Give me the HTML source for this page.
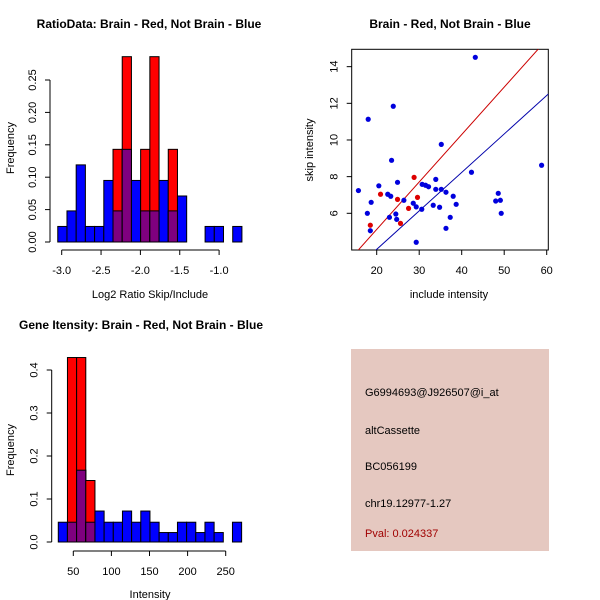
<!DOCTYPE html>
<html><head><meta charset="utf-8"><style>
html,body{margin:0;padding:0;background:#fff;}
svg{display:block;font-family:"Liberation Sans",sans-serif;}
</style></head><body>
<svg id="c" width="600" height="600" viewBox="0 0 600 600">
<rect x="0" y="0" width="600" height="600" fill="#fff"/>
</svg>
<script>
// ---- data: ratio histogram ----
const ratioStart = -3.05;
const ratioWidth = 0.117;
const ratioBlue = [0.024,0.048,0.119,0.024,0.024,0.095,0.048,0.143,0.095,0.048,0.048,0.095,0.048,0.071,0,0,0.024,0.024,0,0.024];
const ratioRed  = [0,0,0,0,0,0,0.143,0.286,0,0.143,0.286,0,0.143,0,0,0,0,0,0,0];
const ratioXTicks = [-3.0,-2.5,-2.0,-1.5,-1.0];
const ratioXTickLabels = ["-3.0","-2.5","-2.0","-1.5","-1.0"];
const ratioYTicks = [0,0.05,0.10,0.15,0.20,0.25];
const ratioYTickLabels = ["0.00","0.05","0.10","0.15","0.20","0.25"];
// ---- data: intensity histogram ----
const intStart = 30.3;
const intWidth = 12.03;
const intBlue = [0.046,0.046,0.167,0.046,0.072,0.046,0.046,0.072,0.046,0.072,0.046,0.022,0.022,0.046,0.046,0.022,0.046,0.022,0,0.046];
const intRed  = [0,0.429,0.429,0.143,0,0,0,0,0,0,0,0,0,0,0,0,0,0,0,0];
const intXTicks = [50,100,150,200,250];
const intXTickLabels = ["50","100","150","200","250"];
const intYTicks = [0,0.1,0.2,0.3,0.4];
const intYTickLabels = ["0.0","0.1","0.2","0.3","0.4"];
// ---- data: scatter ----
const blueX = [15.7,18.0,17.8,18.7,18.5,20.5,22.6,23.3,23.0,23.5,23.9,24.9,24.5,24.7,26.4,28.6,29.3,30.6,29.3,30.7,31.5,32.2,33.3,33.9,33.9,34.8,35.2,35.2,36.3,36.3,37.3,38.0,38.7,42.3,43.2,48.0,48.6,49.1,49.3,58.8];
const blueY = [7.24,11.13,6.0,6.6,5.05,7.5,7.04,6.93,5.78,8.89,11.84,7.69,5.96,5.67,6.71,6.55,6.35,6.22,4.42,7.58,7.53,7.45,6.44,7.85,7.31,6.33,7.31,9.76,7.15,5.18,5.78,6.93,6.49,8.24,14.51,6.67,7.09,6.71,6.0,8.62];
const redX = [18.5,20.9,24.9,25.6,27.5,28.8,29.6];
const redY = [5.35,7.04,6.76,5.45,6.27,7.96,6.87];
const redLine = [0.2589,-0.06];   // slope, intercept
const blueLine = [0.2098,-0.162];
const scXTicks = [20,30,40,50,60];
const scYTicks = [6,8,10,12,14];

const NS = "http://www.w3.org/2000/svg";
const svg = document.getElementById('c');
function el(tag, attrs, parent, text){
  const e = document.createElementNS(NS, tag);
  for (const k in attrs) e.setAttribute(k, attrs[k]);
  if (text !== undefined) e.textContent = text;
  (parent || svg).appendChild(e);
  return e;
}
function group(name){
  const g = el('g', {});
  
  
  return g;
}
function txt(g, x, y, s, opts, name){
  const a = Object.assign({x:x, y:y, 'font-size':11, 'text-anchor':'middle', fill:'#000'}, opts||{});
  const t = el('text', a, g, s);
  
  
  return t;
}

function histogram(cfg){
  const g = group(cfg.name);
  const sx = v => cfg.x0 + (v - cfg.xv0) * cfg.xs;
  const sy = v => cfg.y0 - v * cfg.ys;
  for (let i = 0; i < cfg.blue.length; i++){
    const a = sx(cfg.start + i*cfg.width), b = sx(cfg.start + (i+1)*cfg.width);
    const bl = cfg.blue[i], rd = cfg.red[i];
    if (bl > 0){
      const r = el('rect', {x:a, y:sy(bl), width:b-a, height:sy(0)-sy(bl), fill:'#0000ff', stroke:'#000', 'stroke-width':1}, g);
      
      
    }
    if (rd > 0){
      const r = el('rect', {x:a, y:sy(rd), width:b-a, height:sy(0)-sy(rd), fill:'#ff0000', stroke:'#000', 'stroke-width':1}, g);
      
      
      const m = Math.min(bl, rd);
      if (m > 0){
        const p = el('rect', {x:a, y:sy(m), width:b-a, height:sy(0)-sy(m), fill:'#7f007f', stroke:'#000', 'stroke-width':1}, g);
        
        
      }
    }
  }
  // x axis
  const ay = cfg.axY;
  const xa = el('line', {x1:sx(cfg.xTicks[0]), x2:sx(cfg.xTicks[cfg.xTicks.length-1]), y1:ay, y2:ay, stroke:'#000'}, g);
  
  
  cfg.xTicks.forEach((t,i) => {
    el('line', {x1:sx(t), x2:sx(t), y1:ay, y2:ay+5, stroke:'#000'}, g);
    txt(g, sx(t), ay+24, cfg.xLabels[i], {}, 'x-tick-label');
  });
  // y axis
  const ax = cfg.axX;
  const ya = el('line', {x1:ax, x2:ax, y1:sy(cfg.yTicks[0]), y2:sy(cfg.yTicks[cfg.yTicks.length-1]), stroke:'#000'}, g);
  
  
  cfg.yTicks.forEach((t,i) => {
    el('line', {x1:ax-5, x2:ax, y1:sy(t), y2:sy(t), stroke:'#000'}, g);
    const lx = ax - 14;
    txt(g, lx, sy(t), cfg.yLabels[i], {transform:`rotate(-90 ${lx} ${sy(t)})`}, 'y-tick-label');
  });
  txt(g, cfg.titleX, cfg.titleY, cfg.title, {'font-size':12, 'font-weight':'bold'}, 'chart-title');
  txt(g, cfg.xLabX, cfg.xLabY, cfg.xLab, {}, 'x-axis-title');
  txt(g, 14, cfg.yLabY, 'Frequency', {transform:`rotate(-90 14 ${cfg.yLabY})`}, 'y-axis-title');
}

histogram({name:'ratio-histogram', blue:ratioBlue, red:ratioRed, start:ratioStart, width:ratioWidth,
  x0:61.7, xv0:-3.0, xs:78.7, y0:242, ys:648, axX:50, axY:250,
  xTicks:ratioXTicks, xLabels:ratioXTickLabels, yTicks:ratioYTicks, yLabels:ratioYTickLabels,
  title:'RatioData: Brain - Red, Not Brain - Blue', titleX:149, titleY:28,
  xLab:'Log2 Ratio Skip/Include', xLabX:150, xLabY:298, yLabY:148});

histogram({name:'intensity-histogram', blue:intBlue, red:intRed, start:intStart, width:intWidth,
  x0:73.3, xv0:50, xs:0.762, y0:542, ys:430, axX:51.7, axY:551,
  xTicks:intXTicks, xLabels:intXTickLabels, yTicks:intYTicks, yLabels:intYTickLabels,
  title:'Gene Itensity: Brain - Red, Not Brain - Blue', titleX:141, titleY:329,
  xLab:'Intensity', xLabX:150, xLabY:598, yLabY:450});

// ---- scatter ----
(function(){
  const g = group('scatter-plot');
  const L = 351.7, R = 548.3, T = 49.3, B = 250;
  const sx = v => 376.7 + (v - 20) * 4.25;
  const sy = v => 213.3 - (v - 6) * 18.33;
  const xv0 = 14.12, xv1 = 60.39;
  const box = el('rect', {x:L, y:T, width:R-L, height:B-T, fill:'none', stroke:'#000'}, g);
  
  
  const defs = el('defs', {}, g);
  const cp = el('clipPath', {id:'scclip'}, defs);
  el('rect', {x:L, y:T, width:R-L, height:B-T}, cp);
  [[redLine,'#cc0000','red-fit-line'],[blueLine,'#0000aa','blue-fit-line']].forEach(([ln,col,nm]) => {
    const l = el('line', {x1:sx(xv0), y1:sy(ln[0]*xv0+ln[1]), x2:sx(xv1), y2:sy(ln[0]*xv1+ln[1]), stroke:col, 'stroke-width':1, 'clip-path':'url(#scclip)'}, g);
    
    
  });
  blueX.forEach((x,i) => {
    const c = el('circle', {cx:sx(x), cy:sy(blueY[i]), r:2.6, fill:'#0000dd'}, g);
    
    
  });
  redX.forEach((x,i) => {
    const c = el('circle', {cx:sx(x), cy:sy(redY[i]), r:2.6, fill:'#dd0000'}, g);
    
    
  });
  scXTicks.forEach(t => {
    el('line', {x1:sx(t), x2:sx(t), y1:B, y2:B+5, stroke:'#000'}, g);
    txt(g, sx(t), B+24, String(t), {}, 'x-tick-label');
  });
  scYTicks.forEach(t => {
    el('line', {x1:L-5, x2:L, y1:sy(t), y2:sy(t), stroke:'#000'}, g);
    const lx = L - 14;
    txt(g, lx, sy(t), String(t), {transform:`rotate(-90 ${lx} ${sy(t)})`}, 'y-tick-label');
  });
  txt(g, 450, 28, 'Brain - Red, Not Brain - Blue', {'font-size':12, 'font-weight':'bold'}, 'chart-title');
  txt(g, 449, 298, 'include intensity', {}, 'x-axis-title');
  txt(g, 313, 150, 'skip intensity', {transform:'rotate(-90 313 150)'}, 'y-axis-title');
})();

// ---- info box ----
(function(){
  const g = group('info-panel');
  const r = el('rect', {x:351, y:349, width:198, height:202, fill:'#e5c8c0'}, g);
  
  
  const lines = [['G6994693@J926507@i_at',396,'#000','probe-id'],['altCassette',434,'#000','event-type'],['BC056199',470,'#000','accession'],['chr19.12977-1.27',507,'#000','location'],['Pval: 0.024337',537,'#a00000','p-value']];
  lines.forEach(([s,y,c,n]) => txt(g, 365, y, s, {'text-anchor':'start', fill:c, 'font-size':11}, n));
})();
</script>
</body></html>
